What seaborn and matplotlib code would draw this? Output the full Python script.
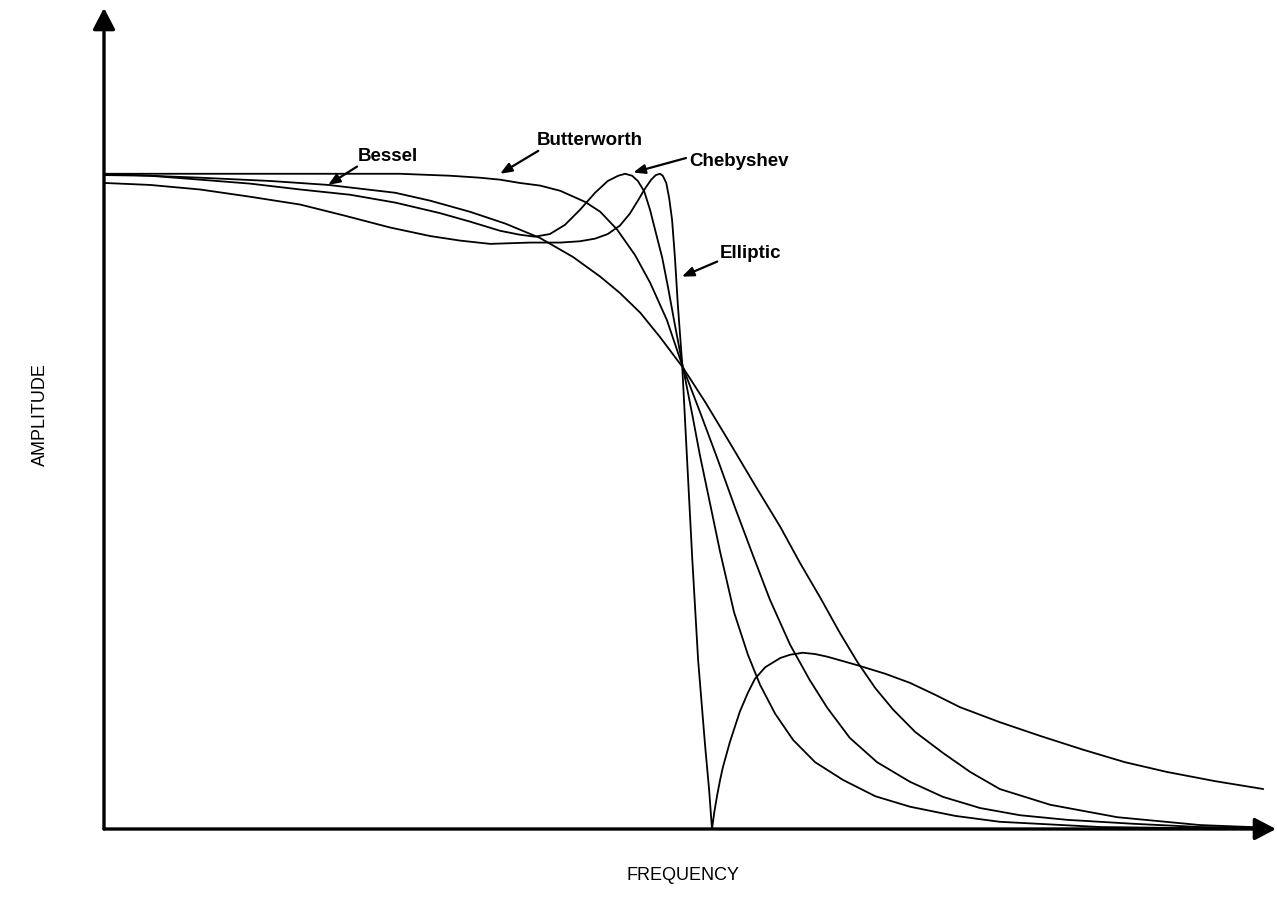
import numpy as np
import pandas as pd
import matplotlib.pyplot as plt
import seaborn as sns

# normalised frequency (f / fc) and amplitude (relative to passband)
butter_f = [0, 0.166, 0.339, 0.511, 0.598, 0.649, 0.684, 0.718, 0.753, 0.788, 0.831,
            0.857, 0.886, 0.917, 0.943, 0.972, 1.000, 1.029, 1.059, 1.090, 1.121,
            1.150, 1.185, 1.219, 1.249, 1.288, 1.335, 1.392, 1.449, 1.513, 1.582,
            1.663, 1.777, 1.893, 2.005]
butter_a = [1.0, 1.0, 1.0, 1.0, 0.997, 0.994, 0.991, 0.986, 0.982, 0.974, 0.957,
            0.942, 0.915, 0.876, 0.834, 0.777, 0.704, 0.637, 0.566, 0.490, 0.417,
            0.350, 0.281, 0.227, 0.185, 0.139, 0.102, 0.072, 0.049, 0.032, 0.021,
            0.014, 0.008, 0.003, 0.002]

bessel_f = [0, 0.079, 0.166, 0.287, 0.387, 0.503, 0.563, 0.632, 0.693, 0.753, 0.810,
            0.857, 0.891, 0.926, 0.960, 1.0, 1.038, 1.081, 1.124, 1.168, 1.202,
            1.237, 1.271, 1.301, 1.332, 1.363, 1.401, 1.449, 1.496, 1.547, 1.634,
            1.750, 1.893, 2.009]
bessel_a = [0.998, 0.997, 0.994, 0.989, 0.983, 0.971, 0.959, 0.942, 0.924, 0.902, 0.873,
            0.843, 0.818, 0.788, 0.751, 0.704, 0.652, 0.589, 0.525, 0.461, 0.406,
            0.353, 0.299, 0.255, 0.215, 0.182, 0.148, 0.116, 0.087, 0.061, 0.037,
            0.018, 0.006, 0.002]

cheby_f = [0, 0.079, 0.166, 0.252, 0.339, 0.425, 0.503, 0.580, 0.632, 0.684, 0.718,
           0.744, 0.770, 0.796, 0.822, 0.848, 0.870, 0.888, 0.900, 0.912, 0.922,
           0.933, 0.943, 0.953, 0.964, 0.974, 0.986, 1.0, 1.016, 1.029, 1.047,
           1.064, 1.088, 1.112, 1.133, 1.159, 1.190, 1.228, 1.276, 1.332, 1.392,
           1.470, 1.547, 1.720, 2.005]
cheby_a = [1.0, 0.997, 0.991, 0.985, 0.976, 0.968, 0.956, 0.940, 0.927, 0.913, 0.907,
           0.904, 0.908, 0.922, 0.945, 0.971, 0.989, 0.997, 1.0, 0.997, 0.989,
           0.973, 0.945, 0.910, 0.872, 0.827, 0.769, 0.704, 0.632, 0.571, 0.495,
           0.423, 0.331, 0.266, 0.220, 0.176, 0.136, 0.102, 0.075, 0.050, 0.034,
           0.020, 0.011, 0.003, 0.0]

ellip_f = [0, 0.079, 0.166, 0.252, 0.339, 0.416, 0.494, 0.563, 0.615, 0.667, 0.736,
           0.788, 0.822, 0.848, 0.870, 0.891, 0.908, 0.922, 0.934, 0.945, 0.953,
           0.960, 0.965, 0.971, 0.976, 0.981, 0.986, 0.991, 0.998, 1.007, 1.016,
           1.026, 1.038, 1.045, 1.050, 1.054, 1.059, 1.064, 1.069, 1.081, 1.098,
           1.112, 1.124, 1.142, 1.168, 1.185, 1.207, 1.228, 1.249, 1.301, 1.349,
           1.392, 1.435, 1.478, 1.547, 1.617, 1.691, 1.763, 1.836, 1.919, 2.002]
ellip_a = [0.986, 0.983, 0.976, 0.965, 0.953, 0.936, 0.918, 0.905, 0.898, 0.893, 0.895,
           0.895, 0.897, 0.901, 0.908, 0.921, 0.939, 0.959, 0.977, 0.991, 0.998,
           1.0, 0.997, 0.986, 0.963, 0.930, 0.872, 0.800, 0.716, 0.563, 0.411,
           0.258, 0.128, 0.060, 0.0, 0.026, 0.052, 0.075, 0.095, 0.133, 0.179,
           0.208, 0.229, 0.247, 0.261, 0.266, 0.269, 0.267, 0.263, 0.250, 0.237,
           0.223, 0.205, 0.186, 0.163, 0.142, 0.121, 0.102, 0.087, 0.073, 0.061]

curves = {
    "Butterworth": (butter_f, butter_a),
    "Bessel": (bessel_f, bessel_a),
    "Chebyshev": (cheby_f, cheby_a),
    "Elliptic": (ellip_f, ellip_a),
}
df = pd.concat(
    [pd.DataFrame({"freq": f, "amp": a, "filter": name}) for name, (f, a) in curves.items()],
    ignore_index=True,
)

sns.set_style("white")
plt.rcParams["font.family"] = ["Liberation Sans", "DejaVu Sans"]
plt.rcParams["text.color"] = "black"

fig = plt.figure(figsize=(12.77, 9.10), dpi=100)
ax = fig.add_axes([104 / 1277, 81 / 910, 1172 / 1277, 821 / 910])
xmax, ymax = 2.024, 1.253

sns.lineplot(data=df, x="freq", y="amp", hue="filter", units="filter",
             palette=dict.fromkeys(curves, "black"), estimator=None, sort=False,
             legend=False, lw=1.3, ax=ax)
ax.set_xlim(0, xmax)
ax.set_ylim(0, ymax)
ax.axis("off")

# axes drawn as arrows
axis_arrow = dict(arrowstyle="-|>,head_length=0.65,head_width=0.34", lw=2.4,
                  color="black", shrinkA=0, shrinkB=0, mutation_scale=20)
ax.annotate("", xy=(0, ymax), xytext=(0, 0), arrowprops=axis_arrow)
ax.annotate("", xy=(xmax, 0), xytext=(0, 0), arrowprops=axis_arrow)

# curve labels
lbl_arrow = dict(arrowstyle="-|>,head_length=0.5,head_width=0.2", lw=1.6,
                 color="black", shrinkA=0, shrinkB=0, mutation_scale=14)
labels = [
    ("Bessel", (0.439, 1.027), (0.437, 1.011), (0.387, 0.983)),
    ("Butterworth", (0.748, 1.051), (0.750, 1.035), (0.684, 1.0)),
    ("Chebyshev", (1.010, 1.019), (1.005, 1.024), (0.914, 1.002)),
    ("Elliptic", (1.064, 0.879), (1.059, 0.866), (0.998, 0.843)),
]
for text, tpos, start, tip in labels:
    ax.text(*tpos, text, fontsize=13.5, fontweight="bold", ha="left", va="center")
    ax.annotate("", xy=tip, xytext=start, arrowprops=lbl_arrow)

fig.text(40 / 1277, 1 - 415 / 910, "AMPLITUDE", rotation=90, fontsize=13,
         ha="center", va="center")
fig.text(683 / 1277, 1 - 875 / 910, "FREQUENCY", fontsize=13,
         ha="center", va="center")

fig.savefig("out.png", dpi=100)
